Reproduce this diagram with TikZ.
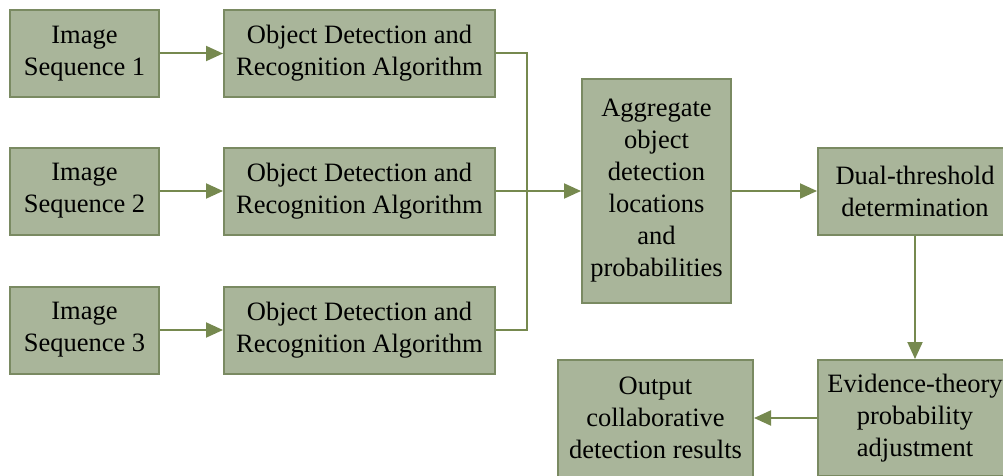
\documentclass[tikz,border=0pt]{standalone}
\usepackage{fontspec}
\setmainfont{Liberation Serif}
\usetikzlibrary{arrows.meta}
\definecolor{boxfill}{RGB}{169,181,154}
\definecolor{boxline}{RGB}{122,138,98}
\definecolor{linkcol}{RGB}{118,137,79}
\begin{document}
\begin{tikzpicture}[x=1pt,y=-1pt,
  blk/.style={draw=boxline, line width=2pt, fill=boxfill, inner sep=0pt,
    align=center, text=black, font=\fontsize{26.5}{32}\selectfont},
  link/.style={draw=linkcol, line width=2pt},
  arr/.style={link, -{Triangle[length=17pt,width=15pt]}}]
\useasboundingbox (0,0) rectangle (1003,476);
\clip (0,0) rectangle (1003,476);
% input sequences
\node[blk, minimum width=149pt, minimum height=87pt] (s1) at (84.5,53.5) {Image\\Sequence 1};
\node[blk, minimum width=149pt, minimum height=87pt] (s2) at (84.5,191) {Image\\Sequence 2};
\node[blk, minimum width=149pt, minimum height=87pt] (s3) at (84.5,330) {Image\\Sequence 3};
% detectors
\node[blk, minimum width=271pt, minimum height=87pt] (d1) at (359.5,53.5) {Object Detection and\\Recognition Algorithm};
\node[blk, minimum width=271pt, minimum height=87pt] (d2) at (359.5,191) {Object Detection and\\Recognition Algorithm};
\node[blk, minimum width=271pt, minimum height=87pt] (d3) at (359.5,330) {Object Detection and\\Recognition Algorithm};
% fusion chain
\node[blk, minimum width=149pt, minimum height=223pt] (agg) at (656.5,191) {Aggregate\\object\\detection\\locations\\and\\probabilities};
\node[blk, minimum width=194pt, minimum height=87pt] (dual) at (915,191) {Dual-threshold\\determination};
\node[blk, minimum width=194pt, minimum height=116pt] (evid) at (915,418) {Evidence-theory\\probability\\adjustment};
\node[blk, minimum width=195pt, minimum height=117pt] (out) at (655.5,418) {Output\\collaborative\\detection results};
% connectors
\draw[arr] (s1.east) -- (d1.west);
\draw[arr] (s2.east) -- (d2.west);
\draw[arr] (s3.east) -- (d3.west);
\coordinate (bus) at (527,191);
\draw[link] (d1.east) -| (bus);
\draw[link] (d3.east) -| (bus);
\draw[arr] (d2.east) -- (agg.west);
\draw[arr] (agg.east) -- (dual.west);
\draw[arr] (dual.south) -- (evid.north);
\draw[arr] (evid.west) -- (out.east);
\end{tikzpicture}
\end{document}
